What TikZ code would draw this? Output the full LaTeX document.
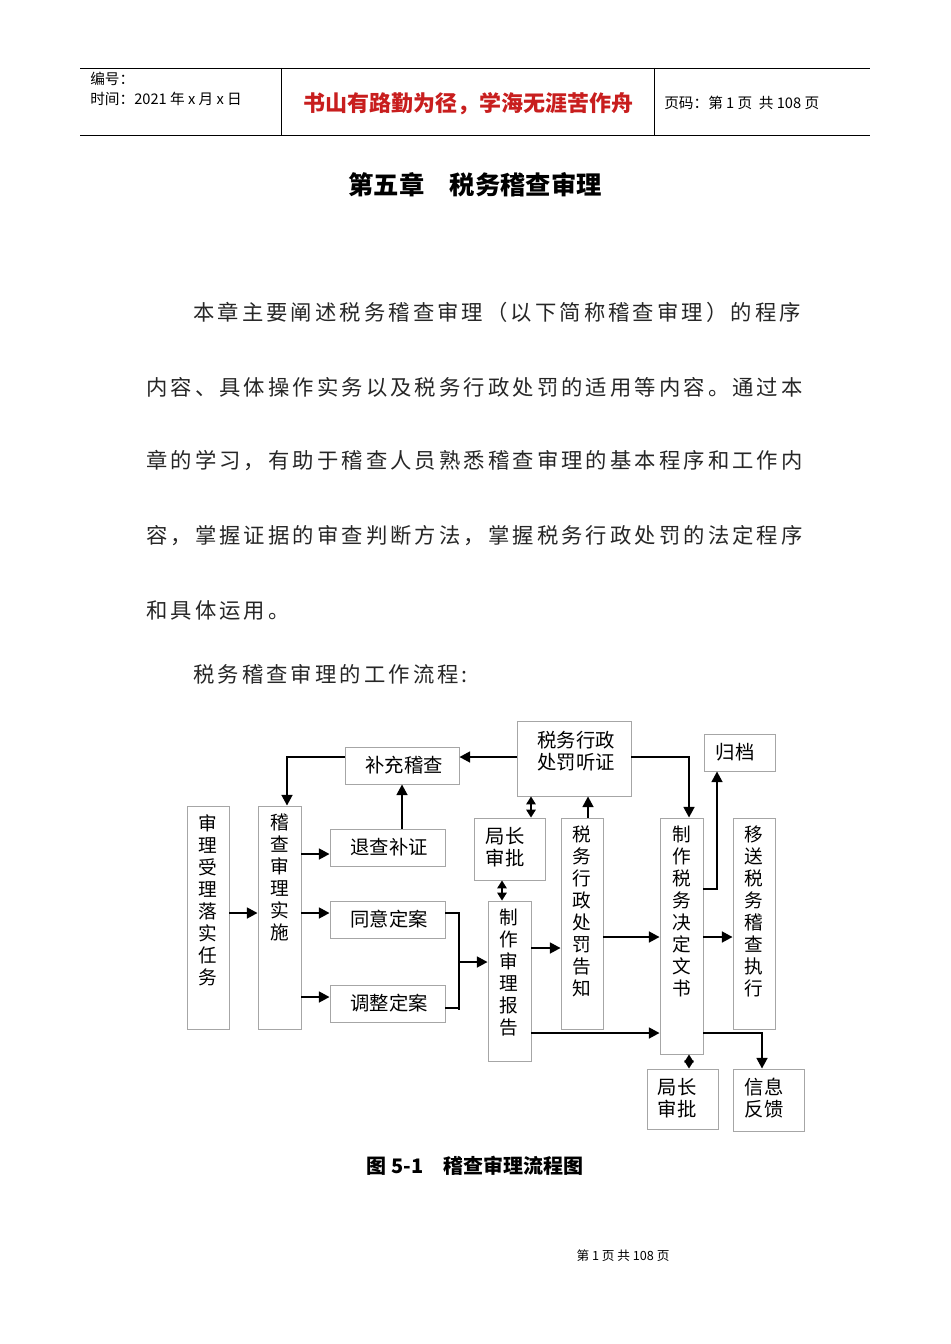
\documentclass[tikz,border=0pt]{standalone}
\usepackage{fontspec}
\setmainfont{Liberation Serif}
\newfontfamily\cjk{Noto Sans CJK SC}
\newfontfamily\cjkls[LetterSpace=14.5]{Noto Sans CJK SC}
\usetikzlibrary{arrows.meta}
\tikzset{
 bx/.style={draw=black!35,line width=0.6pt,inner sep=0pt},
 arr/.style={line width=1.8pt,-{Triangle[length=8pt,width=8pt]}},
 darr/.style={line width=1.8pt,{Triangle[length=6pt,width=7pt]}-{Triangle[length=6pt,width=7pt]}},
 ln/.style={line width=1.8pt},
 dt/.style={font=\cjk\fontsize{14.5}{16.5}\selectfont,inner sep=0pt,align=center},
 vt/.style={font=\cjk\fontsize{14}{16.5}\selectfont,inner sep=0pt,align=center,anchor=north},
 para/.style={font=\cjkls\fontsize{16}{19}\selectfont,inner sep=0pt,anchor=west,text=black!85}
}
\newcommand\bx[5]{\node[bx,minimum width={(#4-#2)*0.75pt},minimum height={(#5-#3)*0.75pt}] (#1) at ({(#2+#4)/2},{(#3+#5)/2}) {};}
\begin{document}
\begin{tikzpicture}[x=0.75pt,y=-0.75pt]
\useasboundingbox (0,0) rectangle (950,1344);
% header
\draw[line width=0.6pt] (80,68) coordinate (h1) -- (870,68) coordinate (h2);
\draw[line width=0.6pt] (80,135) coordinate (h3) -- (870,135) coordinate (h4);
\draw[line width=0.6pt] (281,68) coordinate (v1) -- (281,135) coordinate (v2);
\draw[line width=0.6pt] (654,68) coordinate (v3) -- (654,135) coordinate (v4);
\node[anchor=west,inner sep=0pt,font=\cjk\fontsize{11}{13}\selectfont] (bh) at (90,79) {编号：};
\node[anchor=west,inner sep=0pt,font=\cjk\fontsize{11}{13}\selectfont] (sj) at (90,99) {时间：2021 年 x 月 x 日};
\node[inner sep=0pt,font=\cjk\bfseries\fontsize{16.5}{19}\selectfont,text={rgb,255:red,200;green,30;blue,30}] (motto) at (468,104) {书山有路勤为径，学海无涯苦作舟};
\node[anchor=west,inner sep=0pt,font=\cjk\fontsize{11}{13}\selectfont] (ym) at (664,103) {页码：第 1 页\ \ 共 108 页};
% title
\node[inner sep=0pt,font=\cjk\bfseries\fontsize{19}{22}\selectfont] (title) at (475,185) {第五章\quad 税务稽查审理};
% paragraph
\node[para] (p1) at (193,312) {本章主要阐述税务稽查审理（以下简称稽查审理）的程序};
\node[para] (p2) at (146,387) {内容、具体操作实务以及税务行政处罚的适用等内容。通过本};
\node[para] (p3) at (146,461) {章的学习，有助于稽查人员熟悉稽查审理的基本程序和工作内};
\node[para] (p4) at (146,536) {容，掌握证据的审查判断方法，掌握税务行政处罚的法定程序};
\node[para] (p5) at (146,610) {和具体运用。};
\node[para] (p6) at (193,674) {税务稽查审理的工作流程:};
% boxes
\bx{sl}{187}{806}{229}{1029}
\bx{ss}{258}{806}{301}{1029}
\bx{bc}{345}{747}{459}{784}
\bx{tc}{330}{829}{445}{866}
\bx{ty}{330}{901}{445}{938}
\bx{tz}{330}{985}{445}{1022}
\bx{tz2}{517}{721}{631}{796}
\bx{jz1}{474}{818}{545}{880}
\bx{bg}{488}{901}{531}{1061}
\bx{gz}{561}{818}{603}{1029}
\bx{ws}{660}{818}{703}{1054}
\bx{gd}{704}{734}{775}{771}
\bx{ys}{733}{818}{775}{1029}
\bx{jz2}{647}{1069}{718}{1129}
\bx{xx}{733}{1069}{804}{1131}
% texts
\node[vt] (tsl) at (208,814) {审\\理\\受\\理\\落\\实\\任\\务};
\node[vt] (tss) at (280,814) {稽\\查\\审\\理\\实\\施};
\node[dt] (tbc) at (404,765) {补充稽查};
\node[dt] (ttc) at (389,847) {退查补证};
\node[dt] (tty) at (389,919) {同意定案};
\node[dt] (ttz) at (389,1003) {调整定案};
\node[dt] (ttz2) at (576,751) {税务行政\\处罚听证};
\node[dt] (tjz1) at (505,847) {局长\\审批};
\node[vt] (tbg) at (509,909) {制\\作\\审\\理\\报\\告};
\node[vt] (tgz) at (582,826) {税\\务\\行\\政\\处\\罚\\告\\知};
\node[vt] (tws) at (682,826) {制\\作\\税\\务\\决\\定\\文\\书};
\node[dt] (tgd) at (735,752) {归档};
\node[vt] (tys) at (754,826) {移\\送\\税\\务\\稽\\查\\执\\行};
\node[dt] (tjz2) at (677,1098) {局长\\审批};
\node[dt] (txx) at (764,1098) {信息\\反馈};
% connectors
\draw[arr] (sl.east |- 0,913) -- (ss.west |- 0,913);
\draw[arr] (ss.east |- 0,854) -- (tc.west |- 0,854);
\draw[arr] (ss.east |- 0,913) -- (ty.west |- 0,913);
\draw[arr] (ss.east |- 0,997) -- (tz.west |- 0,997);
\draw[arr] (tc.north -| 402,0) -- (bc.south -| 402,0);
\draw[arr] (bc.west |- 0,757) -| (ss.north -| 287,0);
\draw[arr] (tz2.west |- 0,757) -- (bc.east |- 0,757);
\coordinate (br1) at (459,913);
\coordinate (br2) at (459,1010);
\coordinate (brm) at (459,962);
\draw[ln] (ty.east |- 0,913) -- (br1) -- (br2);
\draw[ln] (tz.east |- 0,1008) -- (459,1008);
\draw[arr] (brm) -- (bg.west |- 0,962);
\draw[darr] (jz1.south -| 502,0) -- (bg.north -| 502,0);
\draw[darr] (tz2.south -| 531,0) -- (jz1.north -| 531,0);
\draw[arr] (gz.north -| 588,0) -- (tz2.south -| 588,0);
\draw[arr] (bg.east |- 0,948) -- (gz.west |- 0,948);
\draw[arr] (gz.east |- 0,937) -- (ws.west |- 0,937);
\draw[arr] (bg.east |- 0,1033) -- (ws.west |- 0,1033);
\draw[arr] (tz2.east |- 0,757) -| (ws.north -| 689,0);
\draw[arr] (ws.east |- 0,889) -| (gd.south -| 717,0);
\draw[arr] (ws.east |- 0,937) -- (ys.west |- 0,937);
\draw[arr] (ws.east |- 0,1033) -| (xx.north -| 762,0);
\draw[darr] (ws.south -| 689,0) -- (jz2.north -| 689,0);
% caption & footer
\node[inner sep=0pt,font=\cjk\bfseries\fontsize{15}{18}\selectfont] (cap) at (475,1166) {图 5-1\quad 稽查审理流程图};
\node[inner sep=0pt,font=\cjk\fontsize{9.5}{11}\selectfont] (foot) at (623,1256) {第\ 1\ 页\ 共\ 108\ 页};
\end{tikzpicture}
\end{document}
